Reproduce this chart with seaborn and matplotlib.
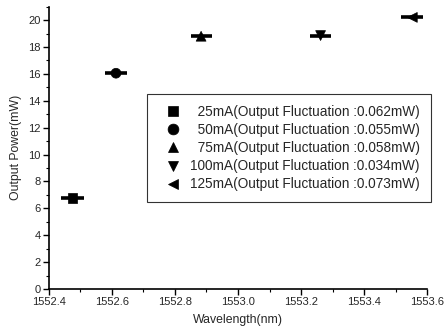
import matplotlib
matplotlib.use("Agg")
import matplotlib.pyplot as plt
import seaborn as sns
import pandas as pd
from matplotlib.ticker import MultipleLocator

sns.set_theme(style="ticks")
plt.rcParams['font.family'] = ['Liberation Sans', 'DejaVu Sans']

labels = ["\u200725mA(Output Fluctuation :0.062mW)",
          "\u200750mA(Output Fluctuation :0.055mW)",
          "\u200775mA(Output Fluctuation :0.058mW)",
          "100mA(Output Fluctuation :0.034mW)",
          "125mA(Output Fluctuation :0.073mW)"]
wavelength = [1552.475, 1552.613, 1552.883, 1553.262, 1553.553]
power = [6.75, 16.05, 18.8, 18.85, 20.2]
xspread = [0.036, 0.035, 0.033, 0.033, 0.035]
markers = ["s", "o", "^", "v", "<"]

df = pd.DataFrame({"label": labels, "wl": wavelength, "p": power})

fig = plt.figure(figsize=(4.44, 3.33), dpi=100)
ax = fig.add_axes([0.110, 0.132, 0.852, 0.848])

for i in range(len(labels)):
    ax.errorbar(wavelength[i], power[i], xerr=xspread[i], fmt="none",
                ecolor="black", elinewidth=2.6, capsize=0, zorder=2)

sns.scatterplot(data=df, x="wl", y="p", hue="label", style="label",
                markers=dict(zip(labels, markers)),
                palette=dict(zip(labels, ["black"] * 5)),
                s=50, edgecolor="black", linewidth=0.5, ax=ax, zorder=3)

ax.set_xlim(1552.4, 1553.6)
ax.set_ylim(0, 21)
ax.xaxis.set_major_locator(MultipleLocator(0.2))
ax.xaxis.set_minor_locator(MultipleLocator(0.1))
ax.yaxis.set_major_locator(MultipleLocator(2))
ax.yaxis.set_minor_locator(MultipleLocator(1))
ax.set_xticklabels([f"{v:.1f}" for v in ax.get_xticks()])
ax.tick_params(axis="both", which="major", labelsize=8, length=4, width=1, direction="out", color="black", pad=2)
ax.tick_params(axis="both", which="minor", length=2, width=0.8, direction="out", color="black")
for s in ["top", "right"]:
    ax.spines[s].set_visible(False)
for s in ["left", "bottom"]:
    ax.spines[s].set_color("black")
    ax.spines[s].set_linewidth(1.2)

ax.set_xlabel("Wavelength(nm)", fontsize=8.8, labelpad=5)
ax.set_ylabel("Output Power(mW)", fontsize=8.8, labelpad=4)

leg = ax.legend(loc="upper left", bbox_to_anchor=(0.259, 0.690), fontsize=9.8,
                frameon=True, fancybox=False, edgecolor="black", borderaxespad=0,
                handletextpad=0.2, borderpad=0.8, labelspacing=0.3, markerscale=1.1,
                handlelength=2.2)
leg.get_frame().set_linewidth(0.8)

fig.savefig("out.png", dpi=100)
